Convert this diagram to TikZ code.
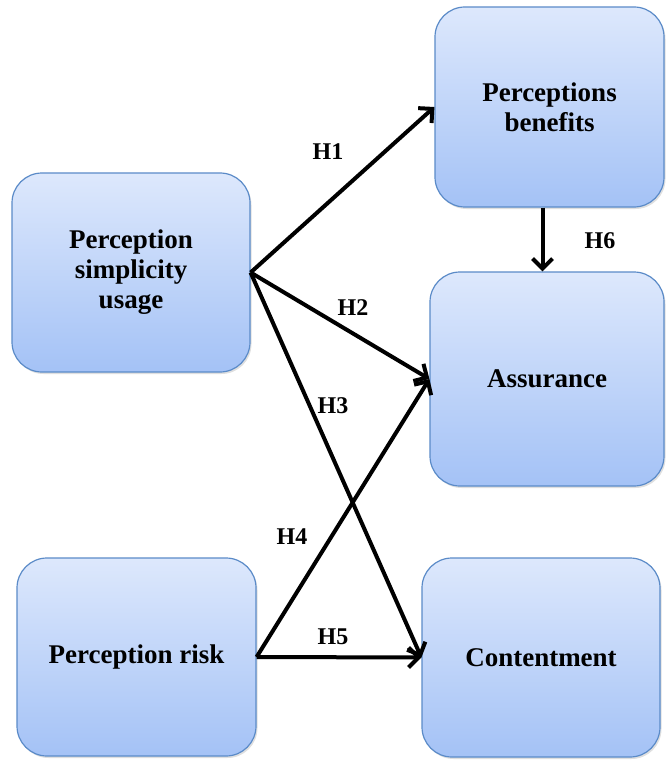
\documentclass[tikz,border=0pt]{standalone}
\usepackage{fontspec}
\setmainfont{Liberation Serif}
\usepackage{xcolor}
\usetikzlibrary{arrows.meta, positioning, shadows}

\definecolor{boxtop}{HTML}{DDE8FC}
\definecolor{boxbot}{HTML}{A4C2F6}
\definecolor{boxedge}{HTML}{5B8BC8}

\tikzset{
  construct/.style={draw=boxedge, line width=1.2pt, rounded corners=30pt,
    top color=boxtop, bottom color=boxbot, align=center, inner sep=0pt,
    font=\fontsize{27}{30}\selectfont\bfseries,
    drop shadow={opacity=0.25, shadow xshift=1.5pt, shadow yshift=-2pt}},
  hyp/.style={line width=4pt, -{Straight Barb[length=10pt,width=20pt]}},
  hlabel/.style={font=\fontsize{24}{26}\selectfont\bfseries}
}

\begin{document}
\begin{tikzpicture}[x=1pt, y=-1pt]
\useasboundingbox (0,0) rectangle (665,762);

% Constructs (left)
\node[construct, minimum width=238pt, minimum height=199pt] (psu) at (131,272.5) {Perception\\simplicity\\usage};
\node[construct, minimum width=239pt, minimum height=198pt] (risk) at (136.5,657) {Perception risk};

% Constructs (right)
\node[construct, minimum width=229pt, minimum height=200pt] (ben) at (549.5,107) {Perceptions\\benefits};
\node[construct, minimum width=234pt, minimum height=214pt] (asr) at (547,379) {Assurance};
\node[construct, minimum width=238pt, minimum height=199pt] (cont) at (541,657.5) {Contentment};

% Hypotheses
\draw[hyp] (psu.east) -- (ben.west);
\draw[hyp] (psu.east) -- (asr.west);
\draw[hyp] (psu.east) -- (cont.west);
\draw[hyp] (risk.east) -- (asr.west);
\draw[hyp] (risk.east) -- (cont.west);
\draw[hyp] ([xshift=-7pt]ben.south) -- ([xshift=-7pt]ben.south |- asr.north);

\node[hlabel] (h1) at (328,152) {H1};
\node[hlabel] (h2) at (353,308) {H2};
\node[hlabel] (h3) at (333,406) {H3};
\node[hlabel] (h4) at (292,537) {H4};
\node[hlabel] (h5) at (333,637) {H5};
\node[hlabel] (h6) at (600,241) {H6};
\end{tikzpicture}
\end{document}
